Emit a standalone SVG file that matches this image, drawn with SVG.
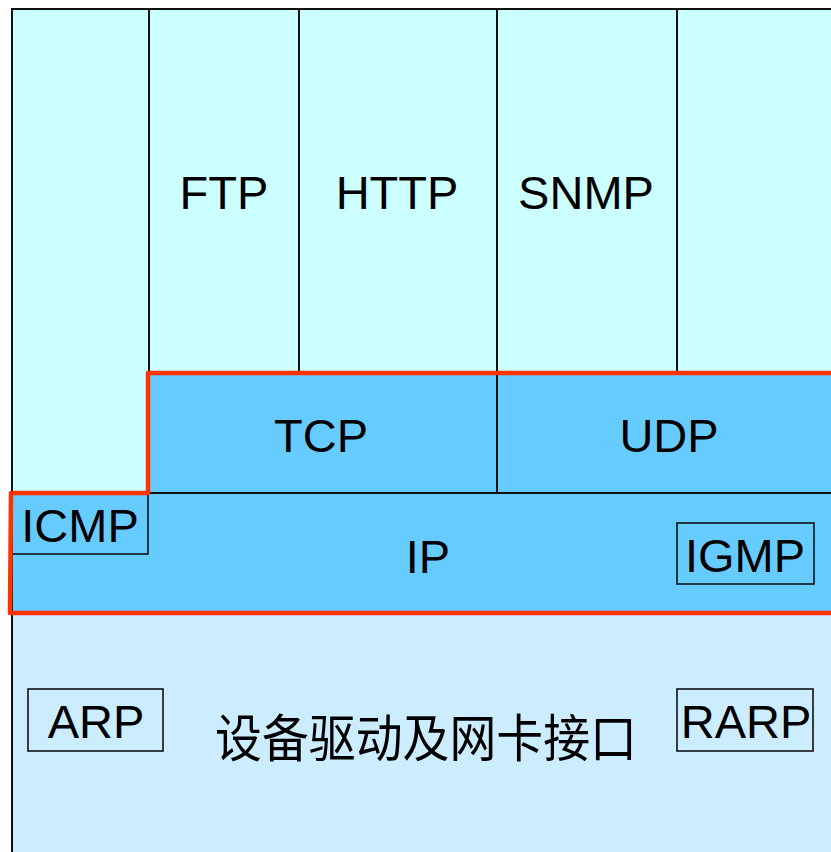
<svg xmlns="http://www.w3.org/2000/svg" width="831" height="852" viewBox="0 0 831 852">
<style>
.app{fill:#CCFFFF;stroke:#111;stroke-width:2}
.tr{fill:#66CCFF;stroke:#111;stroke-width:2}
.link{fill:#CCECFF;stroke:#111;stroke-width:2}
.box{fill:none;stroke:#111;stroke-width:1.6}
.lbl{font-family:"Liberation Sans",Arial,sans-serif;font-size:47px;fill:#000;text-anchor:middle}
.cjk{font-family:"Noto Sans CJK SC","Liberation Sans",sans-serif;font-size:51px;fill:#000;text-anchor:middle}
</style>
<rect width="831" height="852" fill="#ffffff"/>
<g id="link-layer">
<rect class="link" x="12" y="613" width="840" height="260"/>
<text class="cjk" x="426" y="757" textLength="422" lengthAdjust="spacingAndGlyphs">设备驱动及网卡接口</text>
</g>
<g id="arp"><rect class="box" x="28" y="689" width="135" height="62"/><text class="lbl" x="96" y="738">ARP</text></g>
<g id="rarp"><rect class="box" x="677" y="689" width="136" height="62"/><text class="lbl" x="746" y="738">RARP</text></g>
<g id="app-left"><rect class="app" x="12" y="9" width="137" height="484"/></g>
<g id="ftp"><rect class="app" x="149" y="9" width="150" height="363"/><text class="lbl" x="224" y="209">FTP</text></g>
<g id="http"><rect class="app" x="299" y="9" width="198" height="363"/><text class="lbl" x="397" y="209">HTTP</text></g>
<g id="snmp"><rect class="app" x="497" y="9" width="180" height="363"/><text class="lbl" x="586" y="209">SNMP</text></g>
<g id="app-right"><rect class="app" x="677" y="9" width="180" height="363"/></g>
<g id="tcp"><rect class="tr" x="149" y="372" width="348" height="121"/><text class="lbl" x="321" y="452">TCP</text></g>
<g id="udp"><rect class="tr" x="497" y="372" width="360" height="121"/><text class="lbl" x="669" y="452">UDP</text></g>
<g id="ip"><rect class="tr" x="12" y="493" width="845" height="120"/><text class="lbl" x="428" y="573">IP</text></g>
<g id="icmp"><rect class="box" x="12" y="493" width="136" height="61"/><text class="lbl" x="80" y="542">ICMP</text></g>
<g id="igmp"><rect class="box" x="677" y="523" width="137" height="61"/><text class="lbl" x="745" y="572">IGMP</text></g>
<g id="highlight">
<path d="M10,613 L11,493 L148,493 L148,373 L845,373 L845,613 Z" fill="none" stroke="#FF3300" stroke-width="4.5" stroke-linejoin="round"/>
</g>
</svg>
